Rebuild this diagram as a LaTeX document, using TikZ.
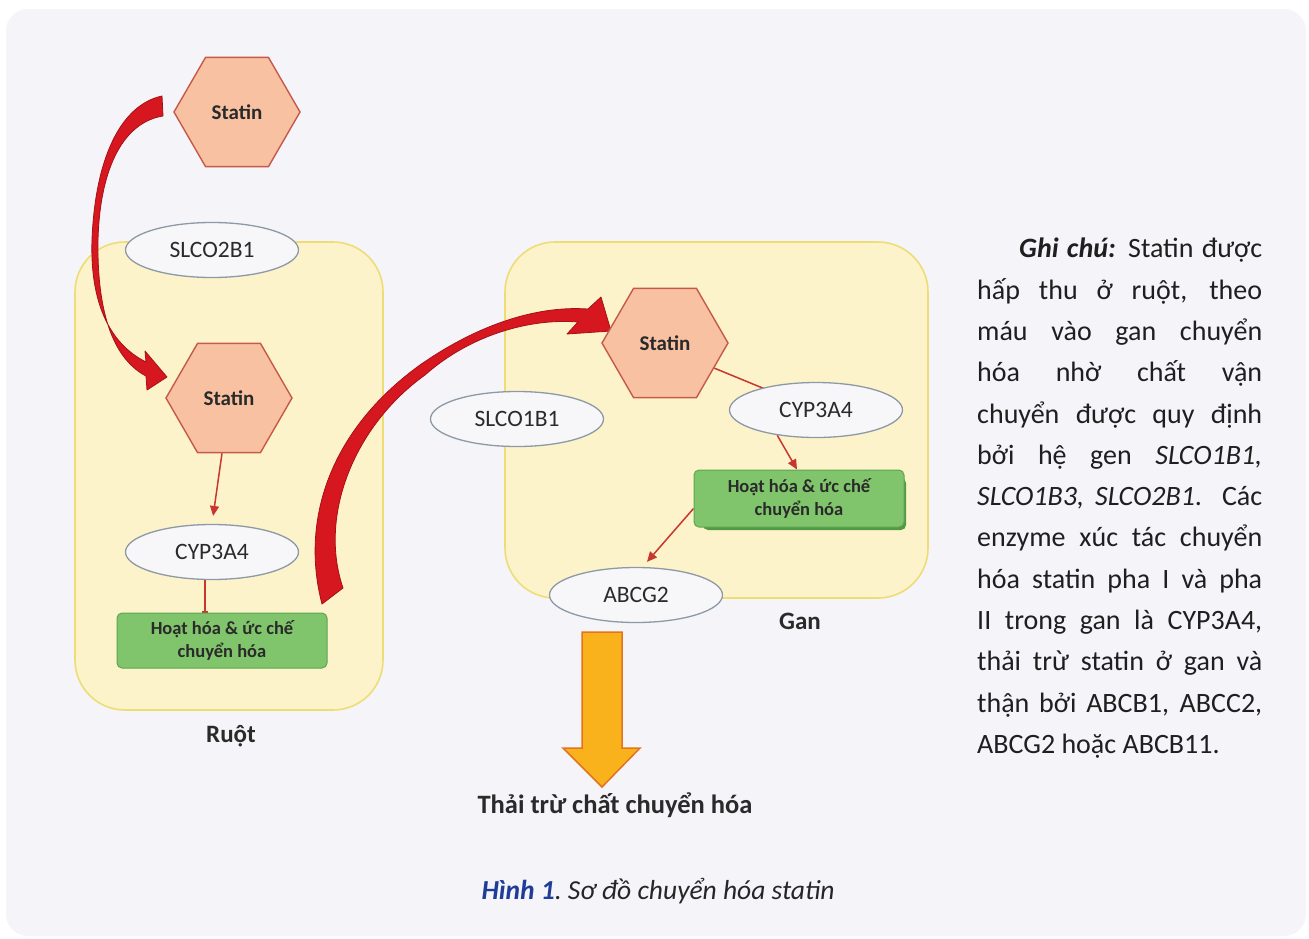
\documentclass[tikz,border=0pt]{standalone}
\usepackage{fontspec}
\setmainfont{Carlito}
\usetikzlibrary{shapes.geometric,arrows.meta}
\pgfdeclarelayer{back}
\pgfdeclarelayer{mid}
\pgfsetlayers{back,mid,main}
\definecolor{panel}{HTML}{F4F4F9}
\definecolor{yfill}{HTML}{FDF3CB}
\definecolor{ydraw}{HTML}{EEDD77}
\definecolor{hexfill}{HTML}{F7C1A2}
\definecolor{hexdraw}{HTML}{C55A4A}
\definecolor{ellfill}{HTML}{F7F7F9}
\definecolor{elldraw}{HTML}{8E99A6}
\definecolor{gfill}{HTML}{80C56C}
\definecolor{gdraw}{HTML}{5EA552}
\definecolor{gshadow}{HTML}{4E9A45}
\definecolor{ared}{HTML}{D7171F}
\definecolor{adark}{HTML}{A51016}
\definecolor{lred}{HTML}{C8372D}
\definecolor{ofill}{HTML}{F9B21B}
\definecolor{odraw}{HTML}{E4731F}
\definecolor{txt}{HTML}{2A2A2A}
\definecolor{capblue}{HTML}{1F3C99}
\tikzset{
  ybox/.style={draw=ydraw, fill=yfill, line width=1.6pt, rounded corners=50pt, inner sep=0pt},
  hex/.style={regular polygon, regular polygon sides=6, minimum size=126pt, inner sep=0pt,
    draw=hexdraw, fill=hexfill, line width=1.4pt, text=txt, font=\fontsize{21}{24}\selectfont\bfseries},
  ell/.style={ellipse, minimum width=173pt, minimum height=55pt, inner sep=0pt,
    draw=elldraw, fill=ellfill, line width=1.3pt, text=txt, font=\fontsize{23.5}{26}\selectfont},
  gbox/.style={rectangle, rounded corners=5pt, minimum width=210pt, minimum height=55pt, inner sep=0pt,
    draw=gdraw, fill=gfill, line width=1pt, align=center, text=txt,
    font=\fontsize{18.5}{23}\selectfont\bfseries},
  lbl/.style={text=txt, inner sep=0pt, font=\fontsize{25}{28}\selectfont\bfseries},
  conn/.style={draw=lred, line width=1.5pt},
  bigarrow/.style={fill=ared, draw=adark, line width=0.8pt, line join=round},
}
\begin{document}
\begin{tikzpicture}[x=1pt,y=-1pt]
\useasboundingbox (0,0) rectangle (1309,938);
\begin{pgfonlayer}{back}
  \fill[white] (0,0) rectangle (1309,938);
  \fill[panel, rounded corners=22pt] (6,9) rectangle (1306,936);
  \node[ybox, minimum width=308pt, minimum height=468pt] (ruot) at (229,476) {};
  \node[ybox, minimum width=423pt, minimum height=356pt] (gan) at (716.5,420) {};
\end{pgfonlayer}

% nodes
\node[hex] (hexTop) at (237,112) {Statin};
\node[ell] (slco2) at (212,250) {SLCO2B1};
\node[hex] (hexR) at (229,398) {Statin};
\node[ell] (cypR) at (212,552) {CYP3A4};
\node[gbox] (greenR) at (222,640.5) {Hoạt hóa \& ức chế\\chuyển hóa};
\node[lbl] (ruotL) at (231,736) {Ruột};

\node[hex] (hexG) at (665,343) {Statin};
\node[ell] (slco1) at (517,419) {SLCO1B1};
\node[ell] (cypG) at (816,410) {CYP3A4};
\begin{pgfonlayer}{mid}
  \fill[gshadow, rounded corners=5pt] (703,478) rectangle (906,530);
\end{pgfonlayer}
\node[gbox, minimum height=57pt] (greenG) at (799,498.5) {Hoạt hóa \& ức chế\\chuyển hóa};
\node[ell] (abcg) at (636,595) {ABCG2};
\node[lbl] (ganL) at (800,621) {Gan};
\node[lbl, font=\fontsize{26.5}{30}\selectfont\bfseries] (thai) at (615,805) {Thải trừ chất chuyển hóa};

% connectors
\begin{pgfonlayer}{mid}
  \draw[conn, -{Triangle[length=10pt,width=9pt]}, shorten >=8pt] ([xshift=-7pt]hexR.south) -- (cypR.north);
  \draw[conn, -{Bar[width=6pt]}] ([xshift=-7pt]cypR.south) -- ([xshift=-17pt]greenR.north);
  \draw[conn] (hexG.-27) -- (cypG.center);
  \draw[conn, -{Triangle[length=10pt,width=9pt]}] (cypG.-147) -- ([xshift=-2pt]greenG.north);
  \draw[conn, -{Triangle[length=10pt,width=9pt]}] ([yshift=-10pt]greenG.west) -- ([xshift=11pt,yshift=5pt]abcg.north);

  % big red arrow 1: top statin -> ruot statin
  \path[bigarrow] (162,96) .. controls (120,105) and (95,160) .. (92,240)
     .. controls (90,300) and (108,343) .. (146,362)
     -- (145,351) -- (167,377) -- (147,390) -- (146,376)
     .. controls (108,356) and (97,300) .. (98,240)
     .. controls (100,165) and (125,122) .. (163,116) -- cycle;

  % big red arrow 2: ruot -> gan statin
  \path[bigarrow] (322,604) .. controls (300,520) and (330,430) .. (420,365)
     .. controls (470,330) and (530,305) .. (588,309)
     -- (601,297) -- (611,331) -- (567,334) -- (578,322)
     .. controls (530,318) and (470,335) .. (425,375)
     .. controls (355,425) and (318,515) .. (343,588) -- cycle;

  % orange block arrow
  \coordinate (oTop) at (602,632);
  \coordinate (oTip) at (602,787);
  \path[fill=ofill, draw=odraw, line width=1.5pt, line join=miter]
     ([xshift=-20pt]oTop) -- ([xshift=20pt]oTop) -- (622,748) -- (640,748) -- (oTip)
     -- (563,748) -- (582,748) -- cycle;
\end{pgfonlayer}

% note
\node[anchor=north west, inner sep=0pt, text width=285pt, align=justify, text=black!88,
      font=\fontsize{28}{41.3}\selectfont] (note) at (977,238)
{\tolerance=10000\hyphenpenalty=10000\hspace*{42pt}\textbf{\textit{Ghi chú:}} Statin được\linebreak
hấp thu ở ruột, theo\linebreak
máu vào gan chuyển\linebreak
hóa nhờ chất vận\linebreak
chuyển được quy định\linebreak
bởi hệ gen \textit{SLCO1B1,}\linebreak
\textit{SLCO1B3, SLCO2B1}. Các\linebreak
enzyme xúc tác chuyển\linebreak
hóa statin pha I và pha\linebreak
II trong gan là CYP3A4,\linebreak
thải trừ statin ở gan và\linebreak
thận bởi ABCB1, ABCC2,\linebreak
ABCG2 hoặc ABCB11.};

% caption
\node[inner sep=0pt, font=\fontsize{27.5}{30}\selectfont\itshape, text=black!85] (cap) at (658,891)
  {\textcolor{capblue}{\bfseries Hình 1}.\ Sơ đồ chuyển hóa statin};
\end{tikzpicture}
\end{document}
